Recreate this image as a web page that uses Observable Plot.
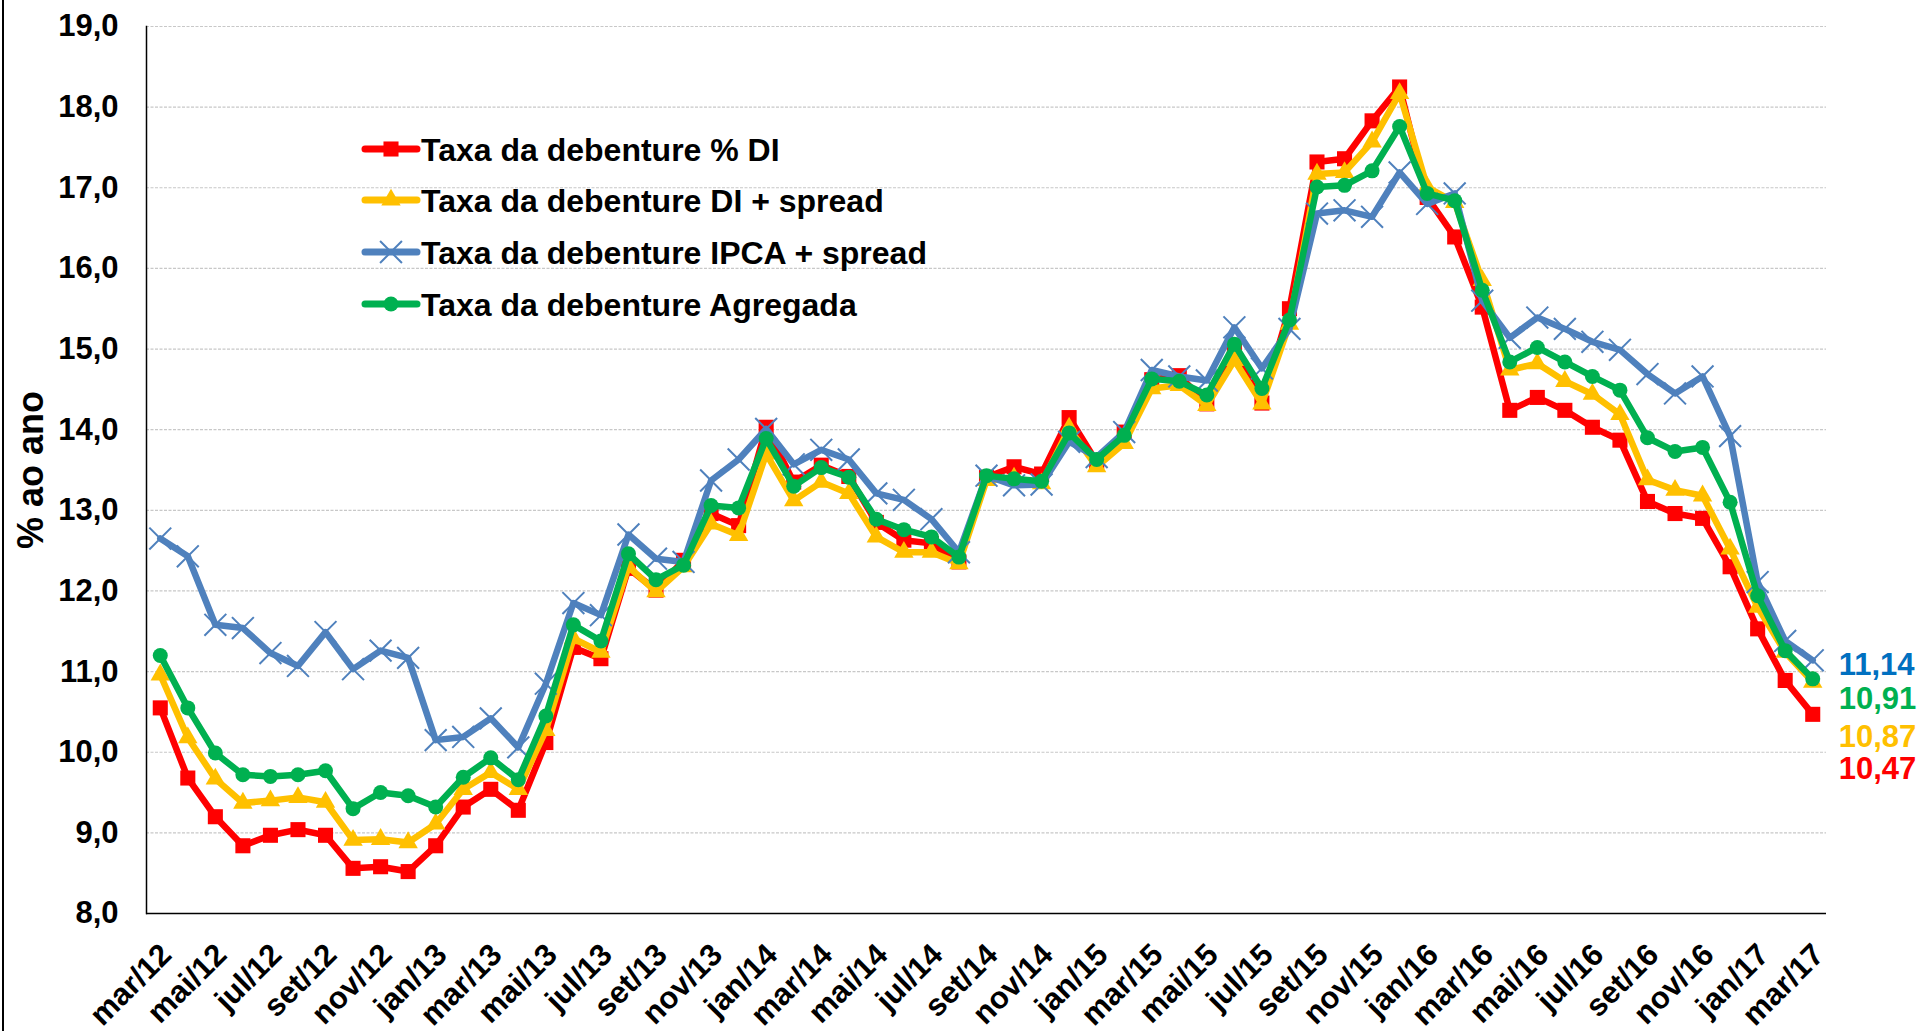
<!DOCTYPE html>
<html>
<head>
<meta charset="utf-8">
<script src="https://cdn.jsdelivr.net/npm/d3@7"></script>
<script src="https://cdn.jsdelivr.net/npm/@observablehq/plot@0.6"></script>
<style>
html, body { margin: 0; padding: 0; background: #fff; }
#wrap { position: relative; width: 1921px; height: 1031px; overflow: hidden; font-family: "Liberation Sans", Arial, sans-serif; }
#chart { position: absolute; left: 0; top: 0; }
#overlay { position: absolute; left: 0; top: 0; pointer-events: none; }
#border { position: absolute; left: 2px; top: 0; width: 2px; height: 1031px; background: #000; }
</style>
</head>
<body>
<div id="wrap">
  <div id="chart"></div>
  <svg id="overlay" width="1921" height="1031"></svg>
  <div id="border"></div>
</div>
<script>
// ---- data ----
const months = [
  "mar/12","abr/12","mai/12","jun/12","jul/12","ago/12","set/12","out/12","nov/12","dez/12",
  "jan/13","fev/13","mar/13","abr/13","mai/13","jun/13","jul/13","ago/13","set/13","out/13","nov/13","dez/13",
  "jan/14","fev/14","mar/14","abr/14","mai/14","jun/14","jul/14","ago/14","set/14","out/14","nov/14","dez/14",
  "jan/15","fev/15","mar/15","abr/15","mai/15","jun/15","jul/15","ago/15","set/15","out/15","nov/15","dez/15",
  "jan/16","fev/16","mar/16","abr/16","mai/16","jun/16","jul/16","ago/16","set/16","out/16","nov/16","dez/16",
  "jan/17","fev/17","mar/17"
];
const tickMonths = [
  "mar/12","mai/12","jul/12","set/12","nov/12","jan/13","mar/13","mai/13","jul/13","set/13","nov/13",
  "jan/14","mar/14","mai/14","jul/14","set/14","nov/14","jan/15","mar/15","mai/15","jul/15","set/15","nov/15",
  "jan/16","mar/16","mai/16","jul/16","set/16","nov/16","jan/17","mar/17"
];
const yTicks = [8, 9, 10, 11, 12, 13, 14, 15, 16, 17, 18, 19];

const seriesNames = [
  "Taxa da debenture % DI",
  "Taxa da debenture DI + spread",
  "Taxa da debenture IPCA + spread",
  "Taxa da debenture Agregada"
];
const seriesColors = ["#FF0000", "#FFC000", "#4F81BD", "#00B050"];
const labelColors = ["#FF0000", "#FFC000", "#0070C0", "#00B050"];
const seriesSymbols = ["square", "triangle", "times", "circle"];

const taxaDI = [
  10.55, 9.68, 9.20, 8.84, 8.97, 9.04, 8.97, 8.56, 8.58, 8.52,
  8.84, 9.32, 9.54, 9.28, 10.12, 11.30, 11.16, 12.28, 12.01, 12.38, 12.96, 12.81,
  14.03, 13.35, 13.56, 13.42, 12.85, 12.63, 12.59, 12.36, 13.41, 13.54, 13.45, 14.15,
  13.60, 13.97, 14.62, 14.67, 14.32, 14.98, 14.33, 15.50, 17.32, 17.36, 17.83, 18.25,
  16.88, 16.39, 15.52, 14.24, 14.40, 14.24, 14.03, 13.87, 13.11, 12.96, 12.90, 12.30,
  11.53, 10.89, 10.47
];
const taxaDIspread = [
  10.96, 10.18, 9.67, 9.37, 9.40, 9.44, 9.38, 8.91, 8.92, 8.88,
  9.11, 9.54, 9.75, 9.54, 10.27, 11.41, 11.24, 12.30, 11.99, 12.30, 12.83, 12.69,
  13.70, 13.12, 13.35, 13.21, 12.67, 12.48, 12.48, 12.34, 13.37, 13.40, 13.33, 14.02,
  13.54, 13.83, 14.51, 14.55, 14.30, 14.86, 14.32, 15.31, 17.17, 17.19, 17.57, 18.17,
  17.01, 16.82, 15.85, 14.74, 14.82, 14.60, 14.44, 14.19, 13.38, 13.25, 13.18, 12.52,
  11.80, 11.24, 10.87
];
const taxaIPCA = [
  12.65, 12.43, 11.58, 11.54, 11.23, 11.07, 11.49, 11.03, 11.26, 11.17,
  10.15, 10.19, 10.42, 10.06, 10.85, 11.85, 11.70, 12.70, 12.40, 12.36, 13.37, 13.63,
  14.01, 13.57, 13.75, 13.63, 13.21, 13.13, 12.89, 12.48, 13.43, 13.31, 13.32, 13.85,
  13.66, 13.97, 14.74, 14.66, 14.61, 15.27, 14.76, 15.25, 16.68, 16.72, 16.64, 17.19,
  16.80, 16.93, 15.60, 15.14, 15.39, 15.25, 15.09, 14.99, 14.69, 14.45, 14.66, 13.92,
  12.11, 11.38, 11.14
];
const taxaAgregada = [
  11.20, 10.55, 9.99, 9.72, 9.70, 9.72, 9.77, 9.30, 9.50, 9.46,
  9.32, 9.69, 9.93, 9.66, 10.45, 11.58, 11.38, 12.46, 12.14, 12.32, 13.06, 13.03,
  13.89, 13.30, 13.53, 13.41, 12.89, 12.76, 12.67, 12.42, 13.43, 13.39, 13.36, 13.96,
  13.63, 13.93, 14.63, 14.60, 14.43, 15.06, 14.51, 15.36, 17.01, 17.03, 17.21, 17.76,
  16.93, 16.84, 15.73, 14.84, 15.02, 14.84, 14.66, 14.49, 13.90, 13.73, 13.78, 13.10,
  11.94, 11.26, 10.91
];
const seriesValues = [taxaDI, taxaDIspread, taxaIPCA, taxaAgregada];

// ---- build tables ----
const fmt = v => v.toFixed(2).replace(".", ",");
const tables = seriesValues.map((vals, s) => vals.map((v, i) => ({month: months[i], value: v, series: seriesNames[s]})));

const font = '"Liberation Sans", Arial, sans-serif';
const symbolR = {square: 8.5, triangle: 7.2, times: 10, circle: 7.5};
const labelDy = [55, 55, 5, 20];

const marks = [
  Plot.gridY(yTicks.filter(d => d > 8), {stroke: "#c8c8c8", strokeOpacity: 1, strokeWidth: 1.2, strokeDasharray: "3,1.5"}),
  Plot.axisY({ticks: yTicks, tickSize: 0, tickPadding: 28, tickFormat: d => d.toFixed(1).replace(".", ","), fontSize: 31, fontWeight: "bold", label: null}),
  Plot.axisX({ticks: tickMonths, tickSize: 0, tickRotate: -45, tickPadding: 36, dx: 6, fontSize: 31, fontWeight: "bold", label: null}),
  Plot.frame({anchor: "left", stroke: "#000", strokeWidth: 1.5}),
  Plot.ruleY([8], {stroke: "#000", strokeWidth: 1.5})
];
tables.forEach((t, s) => {
  marks.push(Plot.line(t, {x: "month", y: "value", stroke: seriesColors[s], strokeWidth: 6.5, strokeLinejoin: "round", strokeLinecap: "round"}));
  const sym = seriesSymbols[s];
  if (sym === "times") {
    marks.push(Plot.dot(t, {x: "month", y: "value", symbol: sym, r: symbolR[sym], stroke: seriesColors[s], strokeWidth: 2}));
  } else {
    marks.push(Plot.dot(t, {x: "month", y: "value", symbol: sym, r: symbolR[sym], fill: seriesColors[s], stroke: null}));
  }
});
tables.forEach((t, s) => {
  const last = t[t.length - 1];
  marks.push(Plot.text([last], {x: "month", y: "value", text: d => fmt(d.value), fill: labelColors[s], fontSize: 31, fontWeight: "bold", textAnchor: "start", dx: 26, dy: labelDy[s]}));
});

const chart = Plot.plot({
  width: 1921,
  height: 1031,
  marginLeft: 146,
  marginRight: 95,
  marginTop: 26,
  marginBottom: 118,
  style: {fontFamily: font, color: "#000", background: "transparent", overflow: "visible"},
  x: {type: "point", domain: months, padding: 0.5},
  y: {domain: [8, 19]},
  marks
});
document.getElementById("chart").appendChild(chart);

// ---- overlay: y title and legend ----
const ov = d3.select("#overlay");
ov.append("text")
  .attr("transform", "translate(43,470) rotate(-90)")
  .attr("text-anchor", "middle")
  .attr("font-family", font).attr("font-weight", "bold").attr("font-size", 36)
  .attr("fill", "#000")
  .text("% ao ano");

const legendRows = [149, 200, 252, 304];
const symMap = {square: d3.symbolSquare, triangle: d3.symbolTriangle, times: d3.symbolTimes, circle: d3.symbolCircle};
seriesNames.forEach((name, s) => {
  const y = legendRows[s];
  const g = ov.append("g");
  g.append("line").attr("x1", 365).attr("x2", 417).attr("y1", y).attr("y2", y)
    .attr("stroke", seriesColors[s]).attr("stroke-width", 7).attr("stroke-linecap", "round");
  const sym = seriesSymbols[s];
  const r = symbolR[sym];
  const p = g.append("path").attr("transform", `translate(391,${y})`)
    .attr("d", d3.symbol(symMap[sym], Math.PI * r * r)());
  if (sym === "times") p.attr("fill", "none").attr("stroke", seriesColors[s]).attr("stroke-width", 2);
  else p.attr("fill", seriesColors[s]);
  g.append("text").attr("x", 421).attr("y", y + 11.5)
    .attr("font-family", font).attr("font-weight", "bold").attr("font-size", 32)
    .attr("fill", "#000").text(name);
});
</script>
</body>
</html>
